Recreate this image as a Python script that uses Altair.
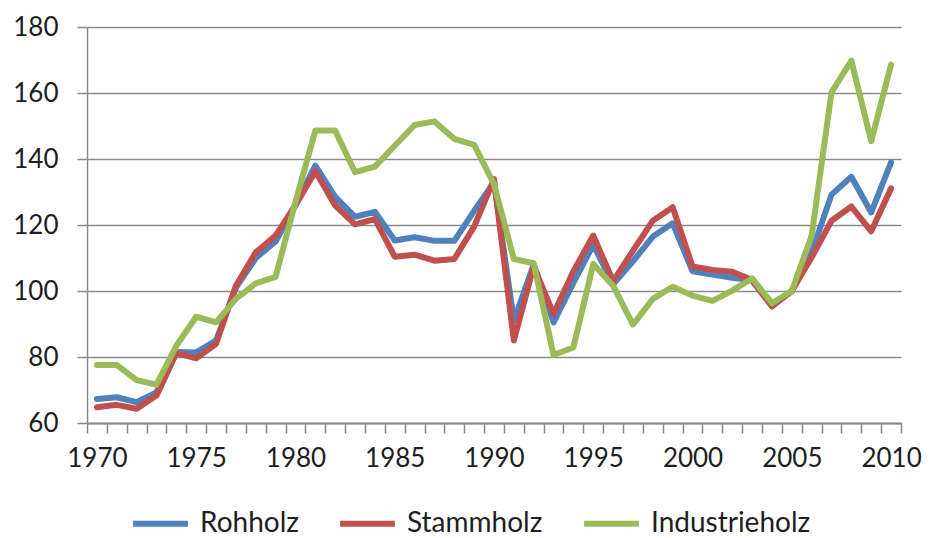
import altair as alt
import pandas as pd

years = list(range(1970, 2011))

rohholz = [67.3, 67.8, 66.3, 69.3, 81.5, 81.4, 85.0, 101.0, 110.0, 115.0,
           126.0, 138.0, 128.5, 122.5, 124.0, 115.3, 116.3, 115.2, 115.2, 124.3,
           133.0, 91.0, 108.0, 90.5, 102.5, 114.0, 102.0, 109.0, 116.5, 120.5,
           106.0, 105.0, 104.0, 103.3, 95.5, 100.0, 111.7, 129.2, 134.6, 123.8,
           139.0]
stammholz = [64.8, 65.5, 64.3, 68.3, 81.2, 79.6, 84.0, 101.6, 111.7, 116.8,
             126.0, 136.3, 125.9, 120.2, 121.8, 110.4, 111.0, 109.2, 109.7, 119.5,
             133.9, 85.0, 107.5, 93.0, 106.0, 116.8, 103.0, 112.2, 121.3, 125.4,
             107.4, 106.4, 105.8, 103.3, 95.3, 100.0, 110.2, 121.3, 125.6, 118.1,
             131.1]
industrieholz = [77.6, 77.6, 73.0, 71.6, 83.4, 92.2, 90.5, 97.6, 102.3, 104.3,
                 127.0, 148.6, 148.6, 136.0, 137.7, 144.0, 150.3, 151.4, 146.1, 144.3,
                 132.4, 109.7, 108.4, 80.6, 82.9, 108.2, 101.6, 89.8, 97.6, 101.3,
                 98.6, 97.0, 100.1, 103.8, 96.3, 100.0, 116.8, 160.2, 169.8, 145.4,
                 168.6]

series_names = ["Rohholz", "Stammholz", "Industrieholz"]
series_colors = ["#4F81BD", "#C0504D", "#9BBB59"]
y_ticks = [60, 80, 100, 120, 140, 160, 180]
x_label_years = [1970, 1975, 1980, 1985, 1990, 1995, 2000, 2005, 2010]

rows = []
for name, vals in zip(series_names, [rohholz, stammholz, industrieholz]):
    for yr, v in zip(years, vals):
        rows.append({"Jahr": yr, "Wert": v, "Serie": name})
df = pd.DataFrame(rows)

boundaries = [yr - 0.5 for yr in years] + [years[-1] + 0.5]
x_axis_values = sorted(boundaries + x_label_years)

FONT = "Lato"
GRAY = "#8a8a8a"
TXT = "#1e1e1e"

x_enc = alt.X(
    "Jahr:Q",
    scale=alt.Scale(domain=[years[0] - 0.5, years[-1] + 0.5], nice=False, zero=False),
    axis=alt.Axis(
        values=x_axis_values,
        title=None,
        grid=False,
        labelExpr="datum.value % 5 == 0 ? format(datum.value, 'd') : ''",
        labelOverlap=False,
        tickOpacity={"condition": {"test": "datum.value % 5 == 0", "value": 0}, "value": 1},
        tickSize=10,
        tickWidth=1.5,
        tickColor=GRAY,
        domainColor=GRAY,
        domainWidth=2,
        labelFont=FONT,
        labelFontSize=26,
        labelColor=TXT,
        labelPadding=12,
        labelFlush=False,
    ),
)

y_enc = alt.Y(
    "Wert:Q",
    scale=alt.Scale(domain=[60, 180], nice=False, zero=False),
    axis=alt.Axis(
        values=y_ticks,
        title=None,
        grid=True,
        gridColor=GRAY,
        gridWidth=1.5,
        tickSize=10,
        tickWidth=1.5,
        tickColor=GRAY,
        domainColor=GRAY,
        domainWidth=1.5,
        labelFont=FONT,
        labelFontSize=26,
        labelColor=TXT,
        labelPadding=19,
    ),
)

color_enc = alt.Color(
    "Serie:N",
    scale=alt.Scale(domain=series_names, range=series_colors),
    legend=alt.Legend(
        title=None,
        orient="none",
        direction="horizontal",
        legendX=43,
        legendY=466,
        symbolType="stroke",
        symbolSize=3000,
        symbolStrokeWidth=6,
        labelFont=FONT,
        labelFontSize=28,
        labelColor=TXT,
        labelOffset=9,
        columnPadding=29,
    ),
)

base = alt.Chart(df).mark_line(strokeWidth=6, strokeCap="round", strokeJoin="round").encode(
    x=x_enc, y=y_enc, color=color_enc
)

layers = [base.transform_filter(alt.datum.Serie == n) for n in series_names]

chart = (
    alt.layer(*layers)
    .properties(
        width=814,
        height=396,
        autosize=alt.AutoSizeParams(type="none"),
        padding={"left": 79, "top": 19, "right": 25, "bottom": 115},
        background="white",
    )
    .configure_view(stroke=None)
)

chart.save("out.html", embed_options={"renderer": "svg", "actions": False})
